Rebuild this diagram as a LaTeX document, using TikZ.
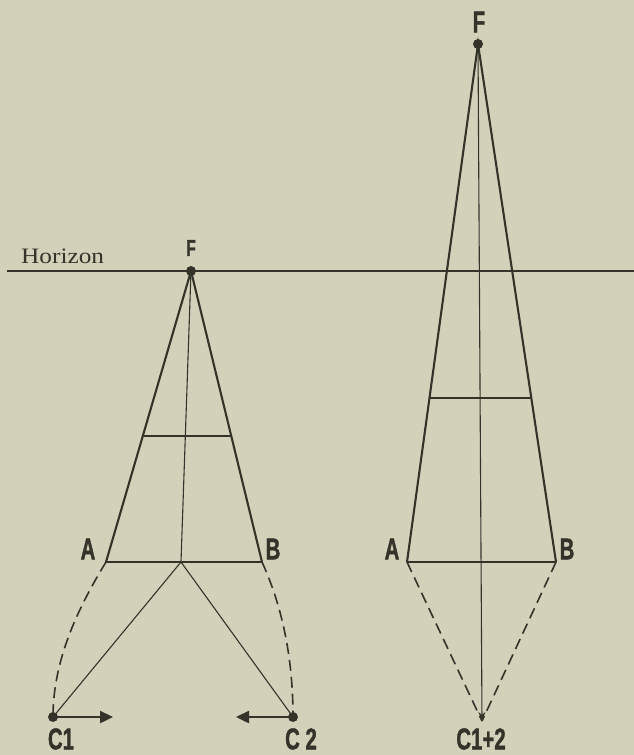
\documentclass[tikz,border=0pt]{standalone}
\usepackage{fontspec}
\setmainfont{Liberation Serif}
\newfontfamily\labfont{Liberation Sans}[BoldFeatures={FakeBold=1.5}]
\usetikzlibrary{calc,arrows.meta}
\definecolor{paper}{HTML}{D4D1BA}
\definecolor{ink}{HTML}{33332A}
\tikzset{
  thickline/.style={ink, line width=2.1pt},
  thinline/.style={ink, line width=1.1pt},
  dashline/.style={ink, line width=1.6pt, dash pattern=on 11pt off 6pt},
  dot/.style={circle, fill=ink, inner sep=0pt, minimum size=10pt},
  biglab/.style={ink, font=\labfont\bfseries\fontsize{30}{30}\selectfont, inner sep=0pt},
  smalllab/.style={ink, font=\labfont\bfseries\fontsize{23}{23}\selectfont, inner sep=0pt},
  movearrow/.style={ink, line width=2.4pt, -{Triangle[length=13pt,width=12pt]}},
}
\newcommand{\cond}[1]{\scalebox{0.68}[1]{#1}}
\begin{document}
\begin{tikzpicture}[x=1pt,y=-1pt]
\fill[paper] (0,0) rectangle (634,755);
\useasboundingbox (0,0) rectangle (634,755);
% horizon
\coordinate (hl) at (7,271);
\coordinate (hr) at (634,271);
\draw[thickline, line width=2.3pt] (hl) -- (hr);
\node[ink, anchor=base west, inner sep=0pt, font=\fontsize{22}{22}\selectfont] (hor) at (21,263) {\scalebox{1.15}[1]{Horizon}};
% left figure
\coordinate (F) at (191,271);
\coordinate (A) at (106,562);
\coordinate (B) at (262,562);
\coordinate (M) at (181,562);
\coordinate (C1) at (53,717);
\coordinate (C2) at (293,717);
\coordinate (ml) at ($(F)!0.567!(A)$);
\coordinate (mr) at ($(F)!0.567!(B)$);
\draw[thickline] (A) -- (F) -- (B);
\draw[thickline] (A) -- (B);
\draw[thinline, line width=1.5pt] (ml) -- (mr);
\draw[thinline] (F) -- (M);
\draw[thinline] (C1) -- (M) -- (C2);
\draw[dashline] (A) .. controls (78,608) and (53,660) .. (C1);
\draw[dashline] (B) .. controls (283,608) and (293,660) .. (C2);
\coordinate (C1e) at (113,717);
\coordinate (C2e) at (236,717);
\draw[movearrow] (C1) -- (C1e);
\draw[movearrow] (C2) -- (C2e);
\node[dot] (Fd) at (F) {};
\node[dot] (C1d) at (C1) {};
\node[dot] (C2d) at (C2) {};
\node[smalllab] (Fl) at (191,248) {\cond{F}};
\node[biglab] (Al) at (88,549) {\cond{A}};
\node[biglab] (Bl) at (273,549) {\cond{B}};
\node[biglab] (C1l) at (61,739) {\cond{C1}};
\node[biglab] (C2l) at (301,739) {\cond{C 2}};
% right figure
\coordinate (F2) at (478,44);
\coordinate (A2) at (407,562);
\coordinate (B2) at (556,562);
\coordinate (C) at (482,721);
\coordinate (ml2) at ($(F2)!0.683!(A2)$);
\coordinate (mr2) at ($(F2)!0.683!(B2)$);
\draw[thickline] (A2) -- (F2) -- (B2);
\draw[thickline] (A2) -- (B2);
\draw[thinline, line width=1.5pt] (ml2) -- (mr2);
\draw[thinline, -{Stealth[length=9pt,width=7pt]}] (F2) -- (C);
\draw[dashline] (A2) -- (C);
\draw[dashline] (B2) -- (C);
\node[dot] (F2d) at (F2) {};
\node[biglab] (F2l) at (479,22) {\cond{F}};
\node[biglab] (A2l) at (392,549) {\cond{A}};
\node[biglab] (B2l) at (567,549) {\cond{B}};
\node[biglab] (Cl) at (481,739) {\cond{C1+2}};
\end{tikzpicture}
\end{document}
